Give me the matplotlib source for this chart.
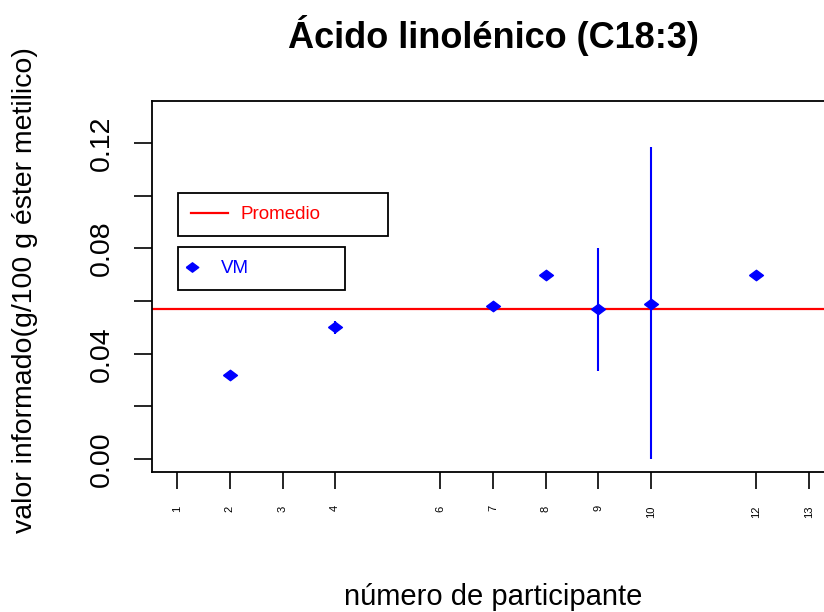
import numpy as np
import matplotlib.pyplot as plt
from matplotlib.lines import Line2D

plt.rcParams['font.family'] = ['Liberation Sans', 'DejaVu Sans']

# datos
participantes = [2, 4, 7, 8, 9, 10, 12]
valores = [0.032, 0.050, 0.058, 0.070, 0.057, 0.059, 0.070]
err_inf = [0.0008, 0.0025, 0.0010, 0.0008, 0.0235, 0.0590, 0.0008]
err_sup = [0.0008, 0.0025, 0.0010, 0.0008, 0.0230, 0.0595, 0.0008]
promedio = 0.057
xticks = [1, 2, 3, 4, 6, 7, 8, 9, 10, 12, 13]
yticks = [0.00, 0.02, 0.04, 0.06, 0.08, 0.10, 0.12]
ytick_labels = ['0.00', '', '0.04', '', '0.08', '', '0.12']

# rombo algo mas ancho que alto, como pch=18 de R
rombo = [(-1, 0), (0, 0.75), (1, 0), (0, -0.75), (-1, 0)]

fig = plt.figure(figsize=(8.24, 6.12), dpi=100)
# el grafico original esta recortado por la derecha
ax = fig.add_axes([152 / 824, 1 - 472 / 612, 682 / 824, 371 / 612])

ax.errorbar(participantes, valores, yerr=[err_inf, err_sup], fmt='none',
            ecolor='blue', elinewidth=1.5, capsize=0, zorder=2)
ax.plot(participantes, valores, marker=rombo, linestyle='none', color='blue',
        markersize=10, zorder=3)
ax.axhline(promedio, color='red', linewidth=1.6, zorder=1)

ax.set_xlim(0.52, 13.48)
ax.set_ylim(-0.0049, 0.136)
ax.set_xticks(xticks)
ax.set_xticklabels([str(t) for t in xticks], rotation=90, fontsize=8, va='top')
ax.set_yticks(yticks)
ax.set_yticklabels(ytick_labels, rotation=90, va='center', fontsize=20.5)
ax.tick_params(axis='x', length=12, width=1.2, pad=12)
ax.tick_params(axis='y', length=13, width=1.2, pad=14)
for s in ax.spines.values():
    s.set_linewidth(1.3)

leg1 = ax.legend(handles=[Line2D([], [], color='red', linewidth=1.6)], labels=['Promedio'],
                 loc='upper left', bbox_to_anchor=(178 / 824, 1 - 193 / 612, 210 / 824, 0),
                 bbox_transform=fig.transFigure, mode='expand', fancybox=False,
                 edgecolor='black', framealpha=1, fontsize=13.5, handlelength=1.95,
                 handletextpad=0.7, borderpad=0.7, borderaxespad=0)
leg1.get_frame().set_linewidth(1.3)
for t in leg1.get_texts():
    t.set_color('red')
ax.add_artist(leg1)

leg2 = ax.legend(handles=[Line2D([], [], color='blue', marker=rombo, linestyle='none',
                                 markersize=9)],
                 labels=['VM'], loc='upper left',
                 bbox_to_anchor=(178 / 824, 1 - 247 / 612, 167 / 824, 0),
                 bbox_transform=fig.transFigure, mode='expand', fancybox=False,
                 edgecolor='black', framealpha=1, fontsize=13.5, handlelength=0.1,
                 handletextpad=1.5, borderpad=0.7, borderaxespad=0)
leg2.get_frame().set_linewidth(1.3)
for t in leg2.get_texts():
    t.set_color('blue')

fig.text(493 / 824, 1 - 35 / 612, 'Ácido linolénico (C18:3)', ha='center', va='center',
         fontsize=26, fontweight='bold')
fig.text(493 / 824, 1 - 597 / 612, 'número de participante', ha='center', va='center', fontsize=21)
fig.text(25 / 824, 1 - 290 / 612, 'valor informado(g/100 g éster metilico)', ha='center',
         va='center', rotation=90, fontsize=20.5)

fig.savefig('out.png', dpi=100)
